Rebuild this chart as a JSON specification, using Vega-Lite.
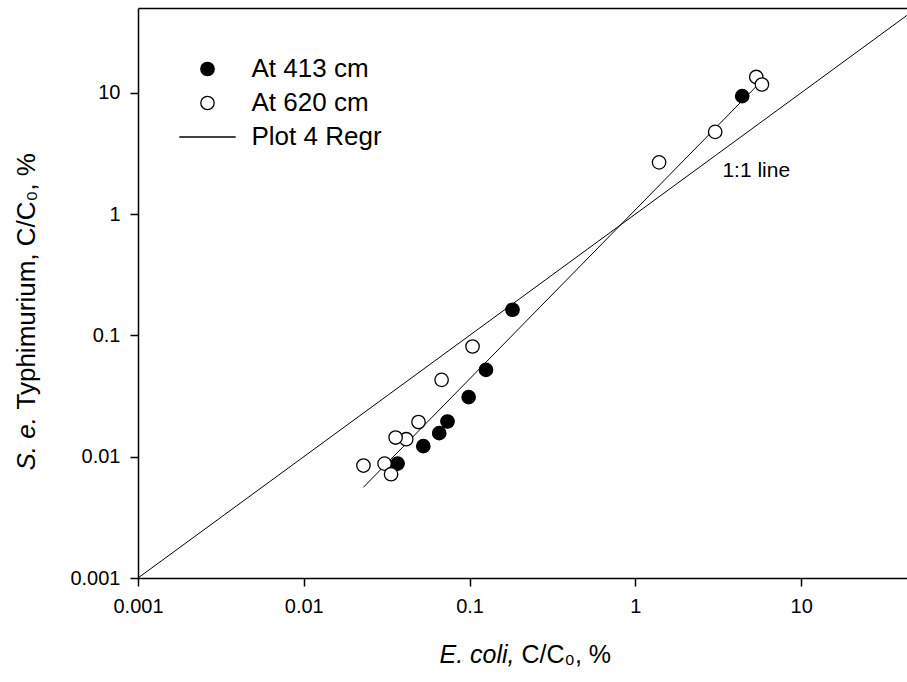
{
  "$schema": "https://vega.github.io/schema/vega-lite/v6.json",
  "width": 769,
  "height": 570,
  "autosize": "none",
  "padding": {"left": 138, "top": 8, "right": 0, "bottom": 104},
  "background": "white",
  "datasets": {
    "pts": [
      {"ecoli": 0.1815, "salm": 0.1627, "series": "At 413 cm"},
      {"ecoli": 0.1256, "salm": 0.0520, "series": "At 413 cm"},
      {"ecoli": 0.0987, "salm": 0.0310, "series": "At 413 cm"},
      {"ecoli": 0.0736, "salm": 0.0195, "series": "At 413 cm"},
      {"ecoli": 0.0656, "salm": 0.01563, "series": "At 413 cm"},
      {"ecoli": 0.0526, "salm": 0.01222, "series": "At 413 cm"},
      {"ecoli": 0.0368, "salm": 0.00877, "series": "At 413 cm"},
      {"ecoli": 4.41, "salm": 9.39, "series": "At 413 cm"},
      {"ecoli": 0.1042, "salm": 0.0810, "series": "At 620 cm"},
      {"ecoli": 0.0678, "salm": 0.0430, "series": "At 620 cm"},
      {"ecoli": 0.0492, "salm": 0.0193, "series": "At 620 cm"},
      {"ecoli": 0.0415, "salm": 0.01394, "series": "At 620 cm"},
      {"ecoli": 0.0358, "salm": 0.01438, "series": "At 620 cm"},
      {"ecoli": 0.0229, "salm": 0.00845, "series": "At 620 cm"},
      {"ecoli": 0.0307, "salm": 0.00877, "series": "At 620 cm"},
      {"ecoli": 0.0336, "salm": 0.00717, "series": "At 620 cm"},
      {"ecoli": 5.36, "salm": 13.5, "series": "At 620 cm"},
      {"ecoli": 5.80, "salm": 11.7, "series": "At 620 cm"},
      {"ecoli": 3.03, "salm": 4.76, "series": "At 620 cm"},
      {"ecoli": 1.39, "salm": 2.67, "series": "At 620 cm"}
    ],
    "oneToOne": [
      {"ecoli": 0.001, "salm": 0.001},
      {"ecoli": 50, "salm": 50}
    ],
    "regr": [
      {"ecoli": 0.0229, "salm": 0.0056},
      {"ecoli": 5.8, "salm": 12.6}
    ],
    "notes": [
      {"ecoli": 5.36, "salm": 2.28, "label": "1:1 line"}
    ]
  },
  "resolve": {"axis": {"x": "independent", "y": "independent"}},
  "layer": [
    {
      "data": {"name": "oneToOne"},
      "mark": {"type": "line", "stroke": "black", "strokeWidth": 1, "clip": true},
      "encoding": {
        "x": {"field": "ecoli", "type": "quantitative",
              "scale": {"type": "log", "domain": [0.001, 43.5], "nice": false},
              "axis": {"orient": "bottom", "labels": false, "ticks": false, "domain": false, "grid": false,
                       "title": "C/C₀, %", "titleFontSize": 25, "titleFontWeight": "normal", "titleFontStyle": "normal",
                       "titleX": 383, "titleY": 84, "titleAlign": "left", "titleBaseline": "alphabetic"}},
        "y": {"field": "salm", "type": "quantitative",
              "scale": {"type": "log", "domain": [0.001, 50], "nice": false},
              "axis": {"orient": "left", "labels": false, "ticks": false, "domain": false, "grid": false,
                       "title": "Typhimurium, C/C₀, %", "titleFontSize": 26, "titleFontWeight": "normal", "titleFontStyle": "normal",
                       "titleX": -104, "titleY": 401, "titleAngle": 270, "titleAlign": "left", "titleBaseline": "alphabetic"}}
      }
    },
    {
      "data": {"name": "regr"},
      "mark": {"type": "line", "stroke": "black", "strokeWidth": 1, "clip": true},
      "encoding": {
        "x": {"field": "ecoli", "type": "quantitative",
              "scale": {"type": "log", "domain": [0.001, 43.5], "nice": false},
              "axis": {"orient": "top", "labels": false, "ticks": false, "domain": true, "grid": false, "title": null}},
        "y": {"field": "salm", "type": "quantitative",
              "scale": {"type": "log", "domain": [0.001, 50], "nice": false},
              "axis": null}
      }
    },
    {
      "data": {"name": "pts"},
      "mark": {"type": "point", "filled": true, "stroke": "black", "strokeWidth": 1.3, "size": 180, "opacity": 1, "clip": true},
      "encoding": {
        "x": {"field": "ecoli", "type": "quantitative",
              "scale": {"type": "log", "domain": [0.001, 43.5], "nice": false},
              "axis": {"orient": "bottom", "values": [0.001, 0.01, 0.1, 1, 10], "format": "~g", "grid": false,
                       "labelFontSize": 20, "labelPadding": 10, "tickSize": 8, "labelFlush": false,
                       "title": "E. coli,", "titleFontSize": 25, "titleFontWeight": "normal", "titleFontStyle": "italic",
                       "titleX": 376, "titleY": 84, "titleAlign": "right", "titleBaseline": "alphabetic"}},
        "y": {"field": "salm", "type": "quantitative",
              "scale": {"type": "log", "domain": [0.001, 50], "nice": false},
              "axis": {"orient": "left", "values": [0.001, 0.01, 0.1, 1, 10], "format": "~g", "grid": false,
                       "labelFontSize": 20, "labelPadding": 10, "tickSize": 8, "labelFlush": false,
                       "title": "S. e.", "titleFontSize": 26, "titleFontWeight": "normal", "titleFontStyle": "italic",
                       "titleX": -104, "titleY": 462, "titleAngle": 270, "titleAlign": "left", "titleBaseline": "alphabetic"}},
        "fill": {"field": "series", "type": "nominal",
                 "scale": {"domain": ["At 413 cm", "At 620 cm", "Plot 4 Regr"], "range": ["black", "white", "black"]},
                 "legend": {"title": null, "orient": "none", "legendX": 56.5, "legendY": 48}},
        "shape": {"field": "series", "type": "nominal",
                  "scale": {"domain": ["At 413 cm", "At 620 cm", "Plot 4 Regr"], "range": ["circle", "circle", "M-4.2,0L4.2,0"]},
                  "legend": {"title": null, "orient": "none", "legendX": 56.5, "legendY": 48}}
      }
    },
    {
      "data": {"name": "notes"},
      "mark": {"type": "text", "fontSize": 21, "color": "black", "align": "center", "baseline": "middle"},
      "encoding": {
        "x": {"field": "ecoli", "type": "quantitative",
              "scale": {"type": "log", "domain": [0.001, 43.5], "nice": false}, "axis": null},
        "y": {"field": "salm", "type": "quantitative",
              "scale": {"type": "log", "domain": [0.001, 50], "nice": false}, "axis": null},
        "text": {"field": "label"}
      }
    }
  ],
  "config": {
    "font": "Liberation Sans",
    "view": {"stroke": null},
    "axis": {
      "domainColor": "black", "domainWidth": 1.5, "tickColor": "black", "tickWidth": 1.5,
      "labelColor": "black", "titleColor": "black", "labelFont": "Liberation Sans", "titleFont": "Liberation Sans"
    },
    "legend": {
      "symbolSize": 180, "symbolStrokeColor": "black", "symbolStrokeWidth": 1.3, "symbolFillColor": "black",
      "labelFontSize": 26, "labelColor": "black", "labelFont": "Liberation Sans", "labelOffset": 31,
      "rowPadding": 8, "padding": 0, "symbolOpacity": 1
    },
    "text": {"font": "Liberation Sans"}
  }
}
